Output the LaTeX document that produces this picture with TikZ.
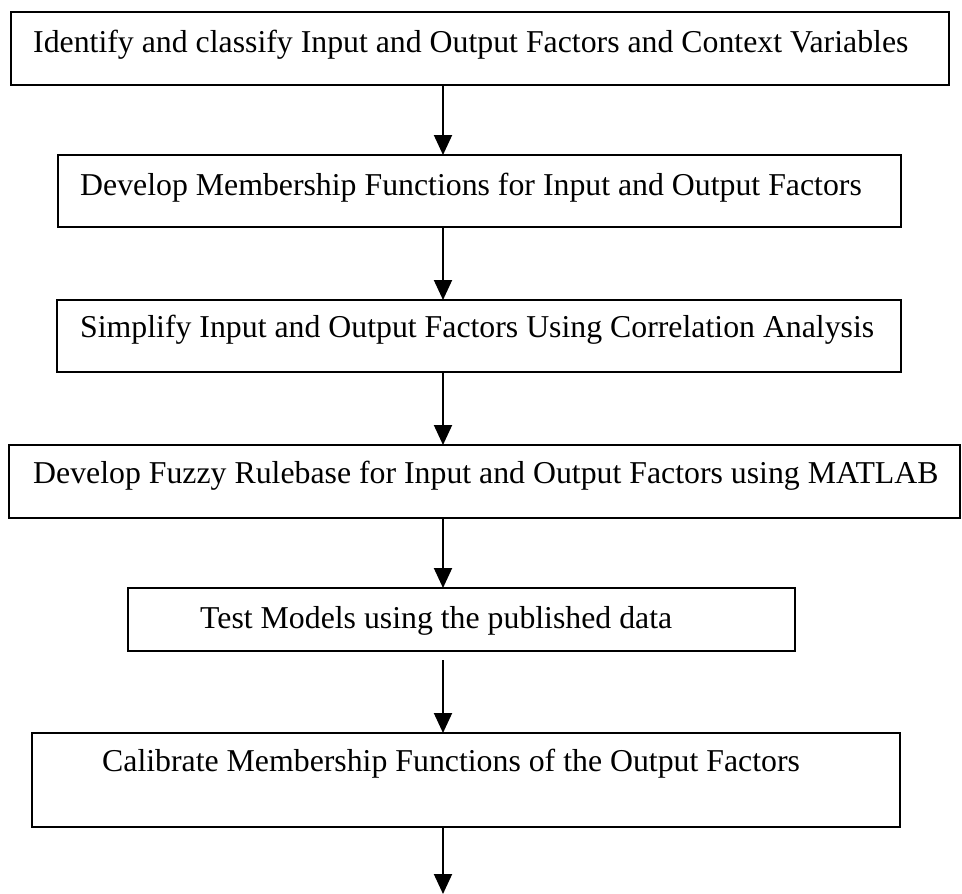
\documentclass[tikz,border=0pt]{standalone}
\usepackage{fontspec}
\setmainfont{Liberation Serif}
\usetikzlibrary{arrows.meta}
\begin{document}
\begin{tikzpicture}[x=1pt,y=-1pt,
  stepbox/.style={draw=black, line width=2pt, rectangle, inner sep=0pt},
  lbl/.style={anchor=base west, inner sep=0pt, font=\fontsize{31.8}{36}\selectfont},
  arr/.style={draw=black, line width=2pt, -{Triangle[length=20pt,width=18pt]}, shorten >=-1pt}
]
\useasboundingbox (0,0) rectangle (962,894);
\coordinate (ax) at (443,0);
\coordinate (fin) at (443,893);

\node[stepbox, minimum width=938pt, minimum height=73pt] (b1) at (480,48.5) {};
\node[stepbox, minimum width=843pt, minimum height=72pt] (b2) at (479.5,191) {};
\node[stepbox, minimum width=844pt, minimum height=72pt] (b3) at (479,336) {};
\node[stepbox, minimum width=951pt, minimum height=73pt] (b4) at (484.5,481.5) {};
\node[stepbox, minimum width=667pt, minimum height=63pt] (b5) at (461.5,619.5) {};
\node[stepbox, minimum width=868pt, minimum height=94pt] (b6) at (466,780) {};

\node[lbl] (t1) at (33,52) {Identify and classify Input and Output Factors and Context Variables};
\node[lbl] (t2) at (80,195) {Develop Membership Functions for Input and Output Factors};
\node[lbl] (t3) at (80,337) {Simplify Input and Output Factors Using Correlation Analysis};
\node[lbl] (t4) at (33,483) {Develop Fuzzy Rulebase for Input and Output Factors using MATLAB};
\node[lbl] (t5) at (200,628) {Test Models using the published data};
\node[lbl] (t6) at (102,771) {Calibrate Membership Functions of the Output Factors};

\draw[arr] (b1.south -| ax) -- (b2.north -| ax);
\draw[arr] (b2.south -| ax) -- (b3.north -| ax);
\draw[arr] (b3.south -| ax) -- (b4.north -| ax);
\draw[arr] (b4.south -| ax) -- (b5.north -| ax);
\draw[arr] ([yshift=-8pt]b5.south -| ax) -- (b6.north -| ax);
\draw[arr] (b6.south -| ax) -- (fin);
\end{tikzpicture}
\end{document}
